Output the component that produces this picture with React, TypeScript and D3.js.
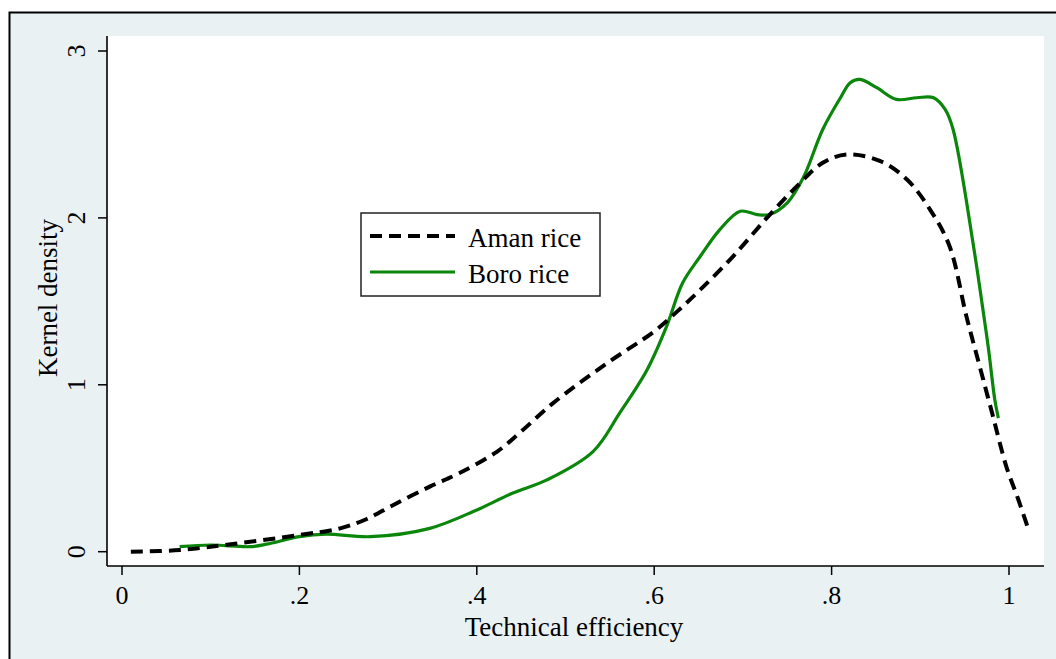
import React from "react";
import * as d3 from "d3";

const xTicks = [0, 0.2, 0.4, 0.6, 0.8, 1];
const xTickLabels = ["0", ".2", ".4", ".6", ".8", "1"];
const yTicks = [0, 1, 2, 3];
const yTickLabels = ["0", "1", "2", "3"];

const amanX = [0.01, 0.065, 0.125, 0.2, 0.246, 0.276, 0.306, 0.347, 0.38, 0.423, 0.45, 0.486, 0.547, 0.6, 0.626, 0.652, 0.689, 0.727, 0.761, 0.79, 0.817, 0.855, 0.885, 0.911, 0.933, 0.952, 0.967, 0.982, 0.997, 1.01, 1.021];
const amanY = [0, 0.01, 0.046, 0.1, 0.14, 0.196, 0.28, 0.39, 0.47, 0.6, 0.72, 0.89, 1.13, 1.32, 1.44, 1.57, 1.77, 2.0, 2.19, 2.33, 2.38, 2.34, 2.23, 2.05, 1.83, 1.41, 1.11, 0.81, 0.51, 0.32, 0.148];

const boroX = [0.065, 0.1, 0.144, 0.163, 0.2, 0.23, 0.28, 0.347, 0.4, 0.44, 0.479, 0.531, 0.561, 0.592, 0.614, 0.632, 0.652, 0.674, 0.697, 0.716, 0.73, 0.75, 0.768, 0.79, 0.81, 0.821, 0.832, 0.851, 0.873, 0.896, 0.915, 0.928, 0.937, 0.96, 0.969, 0.977, 0.984, 0.988];
const boroY = [0.03, 0.04, 0.03, 0.045, 0.09, 0.105, 0.09, 0.14, 0.25, 0.35, 0.43, 0.6, 0.83, 1.09, 1.35, 1.61, 1.77, 1.93, 2.04, 2.02, 2.02, 2.09, 2.24, 2.53, 2.72, 2.81, 2.83, 2.78, 2.71, 2.72, 2.72, 2.65, 2.53, 1.83, 1.51, 1.21, 0.91, 0.8];

const seriesNames = ["Aman rice", "Boro rice"];

const FONT = "'Liberation Serif', 'Times New Roman', serif";
const GREEN = "#0a860a";

export default function App() {
  const W = 1056;
  const H = 659;
  const plotL = 107, plotR = 1044, plotT = 36, plotB = 566;
  const x = d3.scaleLinear().domain([0, 1]).range([122, 1009]);
  const y = d3.scaleLinear().domain([0, 3]).range([551.7, 51]);

  const line = d3
    .line<[number, number]>()
    .x((d) => x(d[0]))
    .y((d) => y(d[1]))
    .curve(d3.curveCatmullRom.alpha(0.5));

  const aman: [number, number][] = amanX.map((v, i) => [v, amanY[i]]);
  const boro: [number, number][] = boroX.map((v, i) => [v, boroY[i]]);

  return (
    <svg
      width={W}
      height={H}
      style={{ position: "absolute", left: 0, top: 0, display: "block" }}
    >
      <rect x={0} y={0} width={W} height={H} fill="#ffffff" />
      <rect x={9.5} y={12.5} width={W + 20} height={H + 20} fill="#eaf1f3" stroke="#000" strokeWidth={2} />
      <rect x={plotL} y={plotT} width={plotR - plotL} height={plotB - plotT} fill="#ffffff" />
      {/* axes */}
      <line x1={plotL} x2={plotL} y1={plotT} y2={plotB} stroke="#000" strokeWidth={1.6} />
      <line x1={plotL} x2={plotR} y1={plotB} y2={plotB} stroke="#000" strokeWidth={1.6} />
      {yTicks.map((t, i) => (
        <g key={"y" + i}>
          <line x1={98} x2={plotL} y1={y(t)} y2={y(t)} stroke="#000" strokeWidth={1.5} />
          <text
            transform={`translate(85,${y(t)}) rotate(-90)`}
            textAnchor="middle"
            fontFamily={FONT}
            fontSize={26}
            fill="#000"
          >
            {yTickLabels[i]}
          </text>
        </g>
      ))}
      {xTicks.map((t, i) => (
        <g key={"x" + i}>
          <line x1={x(t)} x2={x(t)} y1={plotB} y2={575} stroke="#000" strokeWidth={1.5} />
          <text x={x(t)} y={604} textAnchor="middle" fontFamily={FONT} fontSize={26} fill="#000">
            {xTickLabels[i]}
          </text>
        </g>
      ))}
      <text x={574} y={636} textAnchor="middle" fontFamily={FONT} fontSize={27} fill="#000">
        Technical efficiency
      </text>
      <text
        transform={`translate(57,298) rotate(-90)`}
        textAnchor="middle"
        fontFamily={FONT}
        fontSize={27}
        fill="#000"
      >
        Kernel density
      </text>
      {/* curves */}
      <path d={line(boro) || ""} fill="none" stroke={GREEN} strokeWidth={3.2} />
      <path d={line(aman) || ""} fill="none" stroke="#000" strokeWidth={4} strokeDasharray="12 7" />
      {/* legend */}
      <rect x={361} y={213} width={239} height={83} fill="#fff" stroke="#222" strokeWidth={1.5} />
      <line x1={370} x2={455} y1={236} y2={236} stroke="#000" strokeWidth={4} strokeDasharray="12 7" />
      <line x1={370} x2={455} y1={272} y2={272} stroke={GREEN} strokeWidth={3.2} />
      <text x={468} y={247} fontFamily={FONT} fontSize={27} fill="#000">
        {seriesNames[0]}
      </text>
      <text x={468} y={283} fontFamily={FONT} fontSize={27} fill="#000">
        {seriesNames[1]}
      </text>
    </svg>
  );
}
